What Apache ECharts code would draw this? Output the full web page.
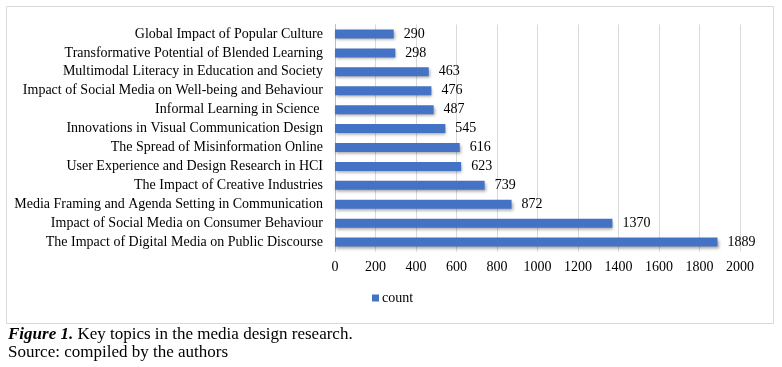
<!DOCTYPE html>
<html><head><meta charset="utf-8">
<script src="https://cdn.jsdelivr.net/npm/echarts@6/dist/echarts.min.js"></script>
<style>html,body{margin:0;padding:0;background:#fff}#c{width:782px;height:367px}</style>
</head><body><div id="c"></div>
<script>
const categories = [
  "The Impact of Digital Media on Public Discourse",
  "Impact of Social Media on Consumer Behaviour",
  "Media Framing and Agenda Setting in Communication",
  "The Impact of Creative Industries",
  "User Experience and Design Research in HCI",
  "The Spread of Misinformation Online",
  "Innovations in Visual Communication Design",
  "Informal Learning in Science ",
  "Impact of Social Media on Well-being and Behaviour",
  "Multimodal Literacy in Education and Society",
  "Transformative Potential of Blended Learning",
  "Global Impact of Popular Culture"
];
const counts = [1889, 1370, 872, 739, 623, 616, 545, 487, 476, 463, 298, 290];
const seriesName = "count";
const FONT = '"Liberation Serif","Times New Roman",serif';
const chart = echarts.init(document.getElementById('c'));
chart.setOption({
  animation: false,
  textStyle: {fontFamily: FONT},
  grid: {left: 335, right: 42, top: 24.5, bottom: 115.5, containLabel: false},
  xAxis: {
    type: 'value', min: 0, max: 2000, interval: 200,
    axisLine: {show: false}, axisTick: {show: false},
    axisLabel: {color: '#000', fontSize: 14, fontFamily: FONT, margin: 9, formatter: v => String(v)},
    splitLine: {lineStyle: {color: '#d9d9d9', width: 1}}
  },
  yAxis: {
    type: 'category', data: categories,
    axisLine: {show: true, lineStyle: {color: '#bfbfbf'}}, axisTick: {show: false},
    axisLabel: {color: '#000', fontSize: 14, fontFamily: FONT, margin: 12}
  },
  legend: {
    data: [seriesName], left: 367, top: 286, itemWidth: 7, itemHeight: 7,
    itemGap: 4, icon: 'rect',
    textStyle: {color: '#000', fontSize: 14, fontFamily: FONT, padding: [0,0,0,-2]}
  },
  series: [{
    name: seriesName, type: 'bar', data: counts, barWidth: 9,
    itemStyle: {color: '#4472C4', shadowColor: 'rgba(0,0,0,0.35)', shadowBlur: 3, shadowOffsetX: 1, shadowOffsetY: 2},
    label: {show: true, position: 'right', distance: 10, color: '#000', fontSize: 14, fontFamily: FONT}
  }],
  graphic: [
    {type: 'rect', shape: {x: 6.5, y: 6.5, width: 767, height: 317}, style: {fill: 'none', stroke: '#d9d9d9', lineWidth: 1}, silent: true},
    {type: 'text', left: 8, top: 326, style: {text: '{b|Figure 1.} Key topics in the media design research.', font: '17px ' + FONT, fill: '#000',
      rich: {b: {fontWeight: 'bold', fontStyle: 'italic', fontSize: 17, fontFamily: FONT, fill: '#000'}}}},
    {type: 'text', left: 8, top: 344, style: {text: 'Source: compiled by the authors', font: '17px ' + FONT, fill: '#000'}}
  ]
});
</script></body></html>
